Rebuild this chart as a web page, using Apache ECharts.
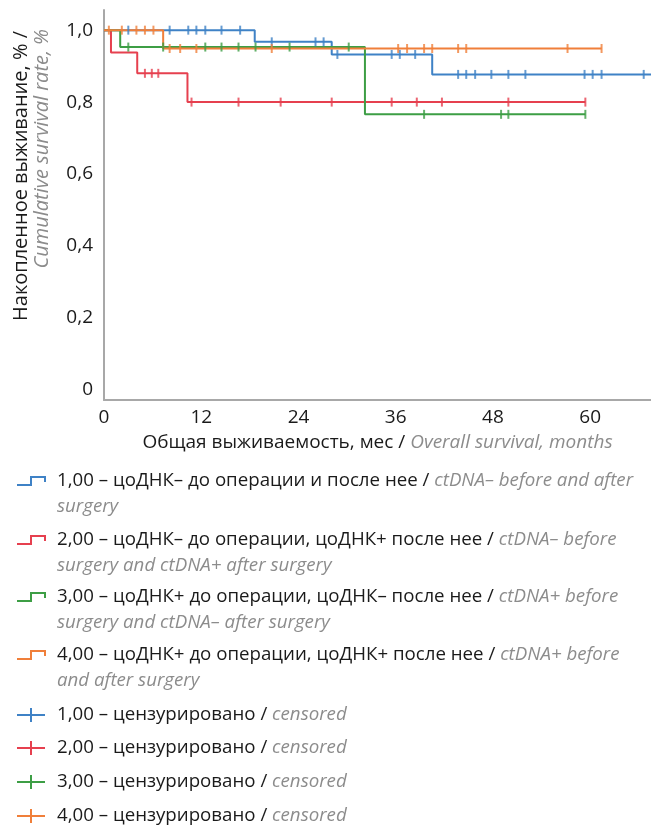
<!DOCTYPE html>
<html>
<head>
<meta charset="utf-8">
<script src="https://cdn.jsdelivr.net/npm/echarts@6/dist/echarts.min.js"></script>
<style>
  html, body { margin: 0; padding: 0; background: #fff; }
  #chart { width: 651px; height: 826px; }
</style>
</head>
<body>
<div id="chart"></div>
<script>
// Kaplan-Meier step points [month, survival] per group
const blueSteps = [[0, 1], [18.6, 0.9675], [28.1, 0.9325], [40.5, 0.877], [68, 0.877]];
const redSteps = [[0, 1], [0.86, 0.938], [4.1, 0.88], [10.3, 0.80], [59.4, 0.80]];
const greenSteps = [[0, 1], [2.0, 0.953], [32.2, 0.766], [59.4, 0.766]];
const orangeSteps = [[0, 1], [7.3, 0.949], [61.4, 0.949]];

// censored times (months)
const blueCensored = [3.0, 8.1, 10.4, 11.4, 12.5, 14.5, 16.8, 20.7, 26.1, 27.1, 28.8, 35.5, 36.5, 38.4,
  43.7, 44.7, 45.8, 47.8, 49.9, 52.0, 59.3, 60.3, 61.4, 66.6];
const redCensored = [5.05, 5.9, 6.7, 10.8, 16.6, 21.8, 28.1, 35.5, 38.6, 41.7, 49.9, 59.4];
const greenCensored = [3.0, 7.3, 12.5, 14.5, 16.6, 18.7, 22.9, 30.2, 39.5, 49.0, 49.9, 59.4];
const orangeCensored = [0.6, 2.2, 4.0, 5.05, 6.1, 8.1, 9.4, 11.4, 20.7, 36.3, 37.4, 39.5, 40.5, 43.7, 44.7, 57.2, 61.4];

const xTicks = [0, 12, 24, 36, 48, 60];
const yTicks = [0, 0.2, 0.4, 0.6, 0.8, 1.0];

const groupLabelsRu = [
  '1,00 – цоДНК– до операции и после нее / ',
  '2,00 – цоДНК– до операции, цоДНК+ после нее / ',
  '3,00 – цоДНК+ до операции, цоДНК– после нее / ',
  '4,00 – цоДНК+ до операции, цоДНК+ после нее / '
];
const groupLabelsEn = [
  ['ctDNA– before and after', 'surgery'],
  ['ctDNA– before', 'surgery and ctDNA+ after surgery'],
  ['ctDNA+ before', 'surgery and ctDNA– after surgery'],
  ['ctDNA+ before', 'and after surgery']
];
const censoredLabelsRu = ['1,00 – цензурировано / ', '2,00 – цензурировано / ', '3,00 – цензурировано / ', '4,00 – цензурировано / '];
const censoredLabelEn = 'censored';

const FONT = '"Open Sans", "Noto Sans", sans-serif';
const FS = 18.7;
const colors = ['#3f82c6', '#e6404f', '#3d9e45', '#f07f3a'];
const BLACK = '#1a1a1a';
const GREY = '#8c8c8c';

const stepsAll = [blueSteps, redSteps, greenSteps, orangeSteps];
const censAll = [blueCensored, redCensored, greenCensored, orangeCensored];

// survival level of a step curve at time t
function levelAt(steps, t) {
  let v = steps[0][1];
  steps.forEach(p => { if (p[0] <= t) v = p[1]; });
  return v;
}

const series = [];
stepsAll.forEach((steps, i) => {
  series.push({
    type: 'line',
    step: 'end',
    data: steps,
    symbol: 'none',
    lineStyle: { color: colors[i], width: 2 },
    z: 2 + i
  });
});
censAll.forEach((times, i) => {
  series.push({
    type: 'scatter',
    data: times.map(t => [t, levelAt(stepsAll[i], t)]),
    symbol: 'rect',
    symbolSize: [2, 9],
    itemStyle: { color: colors[i] },
    z: 10 + i
  });
});

// legend drawn as graphics
const graphics = [];
const legendY = [481, 540, 597, 655];
legendY.forEach((y, i) => {
  graphics.push({
    type: 'polyline',
    shape: { points: [[17, y + 4], [31, y + 4], [31, y - 4], [45, y - 4], [45, y + 1]] },
    style: { stroke: colors[i], lineWidth: 2, fill: null }
  });
  graphics.push({
    type: 'text',
    x: 57, y: y - 13,
    style: {
      text: '{a|' + groupLabelsRu[i] + '}{b|' + groupLabelsEn[i][0] + '}\n{b|' + groupLabelsEn[i][1] + '}',
      rich: {
        a: { fill: BLACK, fontSize: FS, fontFamily: FONT, lineHeight: 26 },
        b: { fill: GREY, fontSize: FS, fontFamily: FONT, fontStyle: 'italic', lineHeight: 26 }
      },
      verticalAlign: 'top'
    }
  });
});
const censY = [715, 748, 782, 816];
censY.forEach((y, i) => {
  graphics.push({ type: 'line', shape: { x1: 17, y1: y, x2: 45, y2: y }, style: { stroke: colors[i], lineWidth: 2 } });
  graphics.push({ type: 'line', shape: { x1: 31, y1: y - 7, x2: 31, y2: y + 7 }, style: { stroke: colors[i], lineWidth: 2 } });
  graphics.push({
    type: 'text',
    x: 57, y: y,
    style: {
      text: '{a|' + censoredLabelsRu[i] + '}{b|' + censoredLabelEn + '}',
      rich: {
        a: { fill: BLACK, fontSize: FS, fontFamily: FONT },
        b: { fill: GREY, fontSize: FS, fontFamily: FONT, fontStyle: 'italic' }
      },
      verticalAlign: 'middle'
    }
  });
});
// y axis title (two rotated lines)
graphics.push({
  type: 'text', x: 21, y: 31, rotation: Math.PI / 2,
  style: { text: 'Накопленное выживание, % /', fill: BLACK, fontSize: 20, fontFamily: FONT, align: 'right', verticalAlign: 'middle' }
});
graphics.push({
  type: 'text', x: 42, y: 29, rotation: Math.PI / 2,
  style: { text: 'Cumulative survival rate, %', fill: GREY, fontSize: 20, fontFamily: FONT, fontStyle: 'italic', align: 'right', verticalAlign: 'middle' }
});

const chart = echarts.init(document.getElementById('chart'));
chart.setOption({
  animation: false,
  textStyle: { fontFamily: FONT },
  grid: { left: 104, right: 0, top: 10, bottom: 426 },
  xAxis: {
    type: 'value', min: 0, max: 67.5,
    axisLine: { show: true, onZero: false, lineStyle: { color: '#a8a8a8', width: 2 } },
    axisTick: { show: false },
    splitLine: { show: false },
    axisLabel: { customValues: xTicks, fontSize: 19, color: BLACK, margin: 8 },
    name: '{a|Общая выживаемость, мес / }{b|Overall survival, months}',
    nameLocation: 'middle',
    nameGap: 33,
    nameTextStyle: {
      rich: {
        a: { color: BLACK, fontSize: 19, fontFamily: FONT },
        b: { color: GREY, fontSize: 19, fontFamily: FONT, fontStyle: 'italic' }
      }
    }
  },
  yAxis: {
    type: 'value', min: -0.028, max: 1.056,
    axisLine: { show: true, onZero: false, lineStyle: { color: '#a8a8a8', width: 2 } },
    axisTick: { show: false },
    splitLine: { show: false },
    axisLabel: {
      customValues: yTicks, fontSize: 19, color: BLACK, margin: 11,
      formatter: v => v === 0 ? '0' : v.toFixed(1).replace('.', ',')
    }
  },
  series: series,
  graphic: graphics
});
</script>
</body>
</html>
